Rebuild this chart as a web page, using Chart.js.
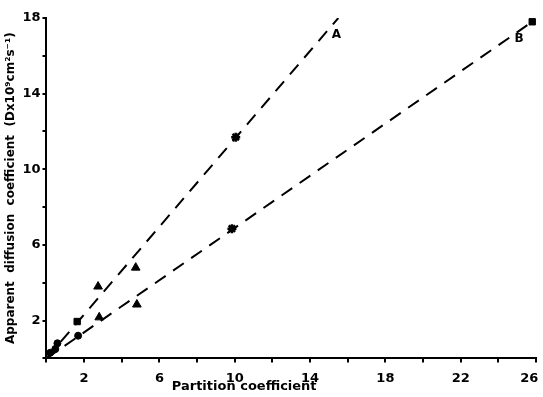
<!DOCTYPE html>
<html>
<head>
<meta charset="utf-8">
<script src="https://cdn.jsdelivr.net/npm/chart.js@4/dist/chart.umd.min.js"></script>
<style>
  html, body { margin: 0; padding: 0; background: #fff; }
  #wrap { width: 543px; height: 397px; }
</style>
</head>
<body>
<div id="wrap"><canvas id="diffChart"></canvas></div>
<script>
// fitted lines (end points)
const lineAX = [0, 15.5];
const lineAY = [0, 18];
const lineBX = [0, 25.8];
const lineBY = [0, 17.8];

// measured points, grouped by marker
const circleX = [0.2, 0.47, 0.58, 1.68];
const circleY = [0.3, 0.5, 0.8, 1.2];
const squareX = [1.63, 25.8];
const squareY = [1.95, 17.8];
const triangleX = [2.74, 4.74, 2.8, 4.8];
const triangleY = [3.8, 4.8, 2.17, 2.85];
const starX = [10.05, 9.85];
const starY = [11.7, 6.86];

const xTickLabels = [2, 6, 10, 14, 18, 22, 26];
const yTickLabels = [2, 6, 10, 14, 18];

const lineLabels = [
    { text: 'A', x: 15.4, y: 17.1 },
    { text: 'B', x: 25.1, y: 16.9 }
];

function pts(xs, ys) {
    return xs.map((x, i) => ({ x: x, y: ys[i] }));
}

const font = "'DejaVu Sans', sans-serif";

// draws the A / B tags and the offset x title
const annotate = {
    id: 'annotate',
    afterDraw(chart) {
        const ctx = chart.ctx;
        const xs = chart.scales.x, ys = chart.scales.y;
        ctx.save();
        ctx.fillStyle = '#000';
        ctx.font = 'bold 12px ' + font;
        ctx.textAlign = 'center';
        ctx.textBaseline = 'middle';
        for (const l of lineLabels) {
            ctx.fillText(l.text, xs.getPixelForValue(l.x), ys.getPixelForValue(l.y));
        }
        ctx.font = 'bold 13px ' + font;
        ctx.fillText('Partition coefficient', xs.getPixelForValue(10.5), 387);
        ctx.restore();
    }
};

const markerStyle = {
    backgroundColor: '#000',
    borderColor: '#000',
    showLine: false
};

new Chart(document.getElementById('diffChart'), {
    type: 'scatter',
    data: {
        datasets: [
            { data: pts(lineAX, lineAY), showLine: true, borderColor: '#000', borderWidth: 2,
              borderDash: [13, 9], pointRadius: 0 },
            { data: pts(lineBX, lineBY), showLine: true, borderColor: '#000', borderWidth: 2,
              borderDash: [13, 9], pointRadius: 0 },
            Object.assign({ data: pts(circleX, circleY), pointStyle: 'circle', pointRadius: 3.5 }, markerStyle),
            Object.assign({ data: pts(squareX, squareY), pointStyle: 'rect', pointRadius: 4.5 }, markerStyle),
            Object.assign({ data: pts(triangleX, triangleY), pointStyle: 'triangle', pointRadius: 5 }, markerStyle),
            Object.assign({ data: pts(starX, starY), pointStyle: 'star', pointRadius: 4.5, borderWidth: 2.5 }, markerStyle)
        ]
    },
    options: {
        responsive: true,
        maintainAspectRatio: false,
        animation: false,
        layout: { padding: { top: 18, right: 2, bottom: 3, left: 4 } },
        plugins: { legend: { display: false }, tooltip: { enabled: false } },
        scales: {
            x: {
                type: 'linear', min: 0, max: 26,
                border: { color: '#000', width: 2 },
                grid: { drawOnChartArea: false, color: '#000', tickLength: 4, lineWidth: 2 },
                ticks: {
                    stepSize: 2, color: '#000', padding: 8,
                    font: { family: font, size: 13, weight: 'bold' },
                    maxRotation: 0, autoSkip: false,
                    // last label sits a little left of its tick, as in the print
                    callback: v => v === 26 ? '26   ' : (xTickLabels.includes(v) ? String(v) : '')
                },
                afterFit: s => { s.paddingRight = 0; }
            },
            y: {
                type: 'linear', min: 0, max: 18,
                border: { color: '#000', width: 2 },
                grid: { drawOnChartArea: false, color: '#000', tickLength: 4, lineWidth: 2 },
                ticks: {
                    stepSize: 2, color: '#000', padding: 2,
                    font: { family: font, size: 13, weight: 'bold' },
                    autoSkip: false,
                    callback: v => yTickLabels.includes(v) ? String(v) : ''
                },
                title: {
                    display: true, color: '#000',
                    text: 'Apparent  diffusion  coefficient  (Dx10\u2079cm\u00b2s\u207b\u00b9)',
                    font: { family: font, size: 12, weight: 'bold' },
                    padding: { top: 0, bottom: 2 }
                }
            }
        }
    },
    plugins: [annotate]
});
</script>
</body>
</html>
